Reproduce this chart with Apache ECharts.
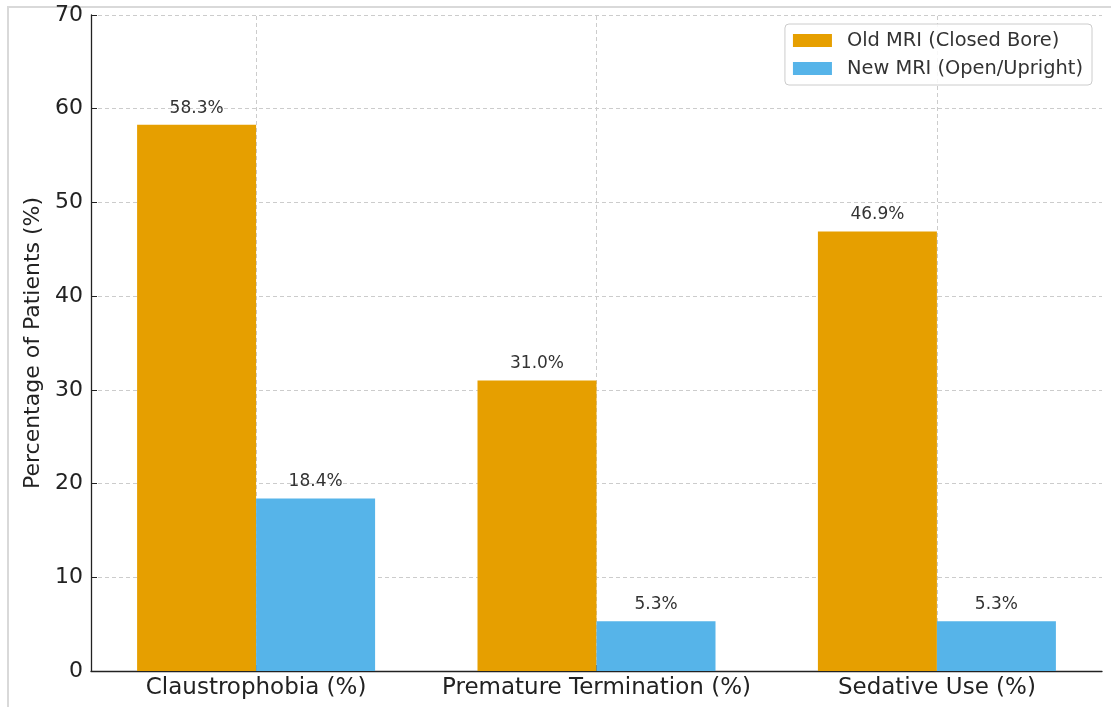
<!DOCTYPE html>
<html>
<head>
<meta charset="utf-8">
<script src="https://cdn.jsdelivr.net/npm/echarts@6/dist/echarts.min.js"></script>
<style>html,body{margin:0;padding:0;background:#fff;}#c{width:1111px;height:707px;}</style>
</head>
<body>
<div id="c"></div>
<script>
const categories = ['Claustrophobia (%)', 'Premature Termination (%)', 'Sedative Use (%)'];
const oldMRI = [58.3, 31.0, 46.9];
const newMRI = [18.4, 5.3, 5.3];
const seriesNames = ['Old MRI (Closed Bore)', 'New MRI (Open/Upright)'];
const yTicks = { min: 0, max: 70, interval: 10 };

const FONT = 'DejaVu Sans';
const catIdx = categories.map((c, i) => i);
const chart = echarts.init(document.getElementById('c'), null, { renderer: 'canvas' });
const labelCfg = {
  show: true, position: 'top', distance: 8, color: '#333333',
  fontFamily: FONT, fontSize: 17,
  formatter: p => p.value[1].toFixed(1) + '%'
};
const gridLine = { color: '#cccccc', type: [4, 3], width: 1 };
chart.setOption({
  animation: false,
  backgroundColor: '#ffffff',
  textStyle: { fontFamily: FONT },
  graphic: [{
    type: 'rect', z: -10, silent: true,
    shape: { x: 8, y: 7, width: 1300, height: 900 },
    style: { fill: 'none', stroke: '#d9d9d9', lineWidth: 2 }
  }],
  grid: { left: 91, right: 9, top: 15, bottom: 36, containLabel: false },
  legend: {
    right: 19, top: 24, orient: 'vertical', z: 20,
    itemWidth: 39, itemHeight: 13, itemGap: 9,
    icon: 'rect',
    padding: [7, 9, 7, 8],
    borderColor: '#cccccc', borderWidth: 1, borderRadius: 4,
    backgroundColor: 'rgba(255,255,255,0.85)',
    textStyle: { fontFamily: FONT, fontSize: 19.4, lineHeight: 19, color: '#333333', padding: [0, 0, 0, 10] },
    data: seriesNames
  },
  xAxis: {
    type: 'value', min: -0.485, max: 2.485,
    axisLine: { show: true, onZero: false, lineStyle: { color: '#222', width: 1.3 } },
    axisTick: { show: true, inside: true, length: 6, customValues: catIdx, lineStyle: { color: '#222' } },
    axisLabel: { fontFamily: FONT, fontSize: 23, color: '#222', margin: 6,
      customValues: catIdx, formatter: v => categories[Math.round(v)] },
    splitLine: { show: false }
  },
  yAxis: {
    type: 'value', min: yTicks.min, max: yTicks.max, interval: yTicks.interval,
    name: 'Percentage of Patients (%)', nameLocation: 'middle', nameGap: 46,
    nameTextStyle: { fontFamily: FONT, fontSize: 22, color: '#222' },
    axisLine: { show: true, onZero: false, lineStyle: { color: '#222', width: 1.3 } },
    axisTick: { show: true, inside: true, length: 6, lineStyle: { color: '#222' } },
    axisLabel: { fontFamily: FONT, fontSize: 22, color: '#222', margin: 8 },
    splitLine: { show: true, lineStyle: gridLine }
  },
  series: [
    { name: 'vgrid', type: 'line', data: [], z: 0, silent: true,
      markLine: {
        silent: true, symbol: 'none', animation: false, z: 0,
        label: { show: false }, lineStyle: gridLine,
        data: catIdx.map(i => ({ xAxis: i }))
      } },
    { name: seriesNames[0], type: 'bar', data: oldMRI.map((v, i) => [i, v]), barWidth: 119, barGap: '0%',
      itemStyle: { color: '#E69F00' }, label: labelCfg, z: 3 },
    { name: seriesNames[1], type: 'bar', data: newMRI.map((v, i) => [i, v]), barWidth: 119, barGap: '0%',
      itemStyle: { color: '#56B4E9' }, label: labelCfg, z: 3 }
  ]
});
</script>
</body>
</html>
